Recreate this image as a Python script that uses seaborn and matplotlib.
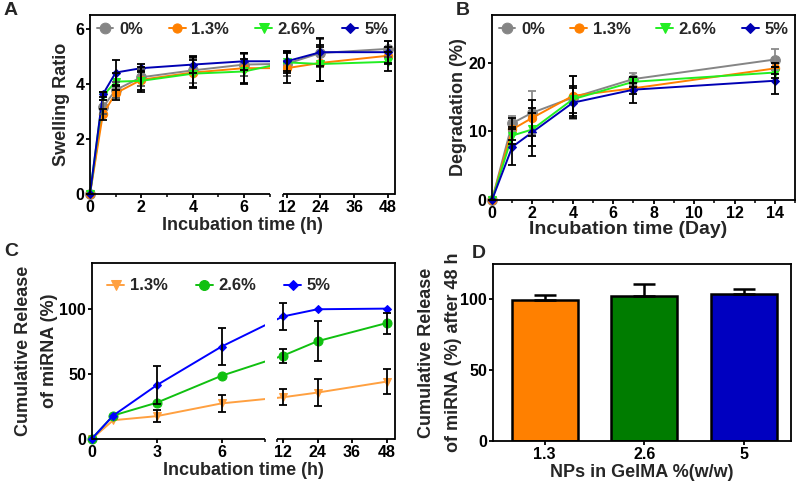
import numpy as np
import matplotlib
matplotlib.use("Agg")
import matplotlib.pyplot as plt
import seaborn as sns

# =========================
# DATA
# =========================

# A - swelling ratio
swell_time = [0, 0.5, 1, 2, 4, 6, 12, 24, 48]
swell_0 = [0, 3.15, 3.78, 4.24, 4.49, 4.70, 4.73, 5.12, 5.27]
swell_13 = [0, 2.90, 3.66, 4.15, 4.41, 4.57, 4.57, 4.76, 5.02]
swell_26 = [0, 3.56, 4.08, 4.11, 4.37, 4.45, 4.78, 4.72, 4.80]
swell_5 = [0, 3.62, 4.41, 4.57, 4.70, 4.82, 4.82, 5.15, 5.15]
swell_0_sd = [0, 0.25, 0.30, 0.30, 0.45, 0.40, 0.45, 0.50, 0.30]
swell_13_sd = [0, 0.20, 0.25, 0.45, 0.55, 0.55, 0.55, 0.65, 0.30]
swell_26_sd = [0, 0.15, 0.30, 0.35, 0.50, 0.45, 0.40, 0.60, 0.35]
swell_5_sd = [0, 0.10, 0.45, 0.15, 0.30, 0.30, 0.35, 0.50, 0.40]

# B - degradation
deg_time = [0, 1, 2, 4, 7, 14]
deg_0 = [0, 11.2, 12.75, 14.95, 17.65, 20.5]
deg_13 = [0, 10.3, 12.0, 15.2, 16.3, 19.2]
deg_26 = [0, 9.4, 10.3, 14.7, 17.25, 18.6]
deg_5 = [0, 7.75, 9.9, 14.2, 16.1, 17.4]
deg_0_sd = [0, 1.1, 3.1, 3.2, 0.9, 1.5]
deg_13_sd = [0, 1.6, 2.6, 2.9, 0.8, 0.8]
deg_26_sd = [0, 1.2, 2.4, 2.0, 0.7, 0.8]
deg_5_sd = [0, 2.6, 3.5, 2.2, 1.9, 2.0]

# C - cumulative release
rel_time = [0, 1, 3, 6, 12, 24, 48]
rel_13 = [0, 14.4, 17.5, 27.3, 32.0, 35.6, 44.0]
rel_26 = [0, 18.0, 27.8, 48.5, 63.9, 75.0, 88.9]
rel_5 = [0, 18.0, 41.2, 70.9, 94.0, 99.5, 100.0]
rel_13_sd = [np.nan, np.nan, 4.7, 6.5, 6.0, 10.3, 9.8]
rel_26_sd = [np.nan, np.nan, np.nan, np.nan, 5.4, 15.5, 8.0]
rel_5_sd = [np.nan, np.nan, 14.5, 14.4, 10.2, np.nan, np.nan]

# D - release after 48 h
bar_labels = ["1.3", "2.6", "5"]
bar_values = [99.6, 102.4, 103.6]
bar_sd = [3.7, 8.3, 3.8]

# =========================
# STYLE
# =========================

sns.set_style("ticks")
plt.rcParams["font.family"] = ["Liberation Sans", "DejaVu Sans"]
plt.rcParams["font.weight"] = "bold"
plt.rcParams["axes.labelweight"] = "bold"
plt.rcParams["axes.edgecolor"] = "black"
plt.rcParams["axes.linewidth"] = 1.3
plt.rcParams["xtick.color"] = "black"
plt.rcParams["ytick.color"] = "black"
plt.rcParams["xtick.major.width"] = 1.3
plt.rcParams["ytick.major.width"] = 1.3
plt.rcParams["xtick.minor.width"] = 1.1
plt.rcParams["xtick.major.size"] = 3
plt.rcParams["ytick.major.size"] = 3
plt.rcParams["xtick.minor.size"] = 2
plt.rcParams["xtick.major.pad"] = 1.5
plt.rcParams["ytick.major.pad"] = 1
plt.rcParams["xtick.labelsize"] = 11.5
plt.rcParams["ytick.labelsize"] = 11.5
plt.rcParams["axes.labelsize"] = 13

GRAY = "#858585"
ORANGE = "#FF8000"
LIME = "#22EE22"
NAVY = "#0000B4"
LEG_FONT = {"weight": "bold", "size": 12}


def pw(x, xs, ys):
    # piecewise linear map with linear extension past the ends
    x = np.asarray(x, dtype=float)
    y = np.interp(x, xs, ys)
    lo = ys[0] + (x - xs[0]) * (ys[1] - ys[0]) / (xs[1] - xs[0])
    hi = ys[-1] + (x - xs[-1]) * (ys[-1] - ys[-2]) / (xs[-1] - xs[-2])
    return np.where(x < xs[0], lo, np.where(x > xs[-1], hi, y))


def broken_x(ax, knots, widths):
    # knots = [start, left_end, right_start, end]; widths = screen units
    ax.set_xscale("function", functions=(lambda t: pw(t, knots, widths),
                                         lambda u: pw(u, widths, knots)))
    ax.set_xlim(knots[0], knots[-1])
    ax.axvspan(knots[1], knots[2], color="white", zorder=2.3, lw=0)
    ax.spines["bottom"].set_visible(False)
    tr = ax.get_xaxis_transform()
    for a, b in [(knots[0], knots[1]), (knots[2], knots[3])]:
        ax.plot([a, b], [0, 0], transform=tr, color="black",
                lw=1.3, clip_on=False, zorder=3, solid_capstyle="butt")


def series(ax, x, y, sd, color, marker, ms, label, ecolor="black"):
    sns.lineplot(x=x, y=y, ax=ax, color=color, marker=marker, markersize=ms,
                 markeredgecolor=color, linewidth=1.4, label=label,
                 clip_on=False, zorder=2)
    ax.errorbar(x, y, yerr=sd, fmt="none", ecolor=ecolor, elinewidth=1.3,
                capsize=3, capthick=1.3, zorder=2.1, clip_on=False)


def top_legend(ax, ncol=4, box=(0.0, 1.0, 1.0, 0)):
    ax.legend(loc="upper left", bbox_to_anchor=box, mode="expand",
              ncol=ncol, frameon=False, handlelength=1.0, handletextpad=0.35,
              borderaxespad=0.0, prop=LEG_FONT, markerscale=1.1)


fig = plt.figure(figsize=(8, 4.87), dpi=100)

# =========================
# A
# =========================
axA = fig.add_axes([0.1125, 0.6016, 0.381, 0.3676])
broken_x(axA, [0, 7, 10.6, 50.5], [0, 180, 193, 305])
series(axA, swell_time, swell_0, swell_0_sd, GRAY, "o", 7, "0%", ecolor="#555555")
series(axA, swell_time, swell_13, swell_13_sd, ORANGE, "o", 6, "1.3%")
series(axA, swell_time, swell_26, swell_26_sd, LIME, "v", 6, "2.6%")
series(axA, swell_time, swell_5, swell_5_sd, NAVY, "D", 4.5, "5%")
axA.set_ylim(0, 6.5)
axA.set_yticks([0, 2, 4, 6])
axA.set_xticks([0, 2, 4, 6, 12, 24, 36, 48])
axA.set_xticklabels(["0", "2", "4", "6", "12", "24", "36", "48"])
axA.set_xticks([1, 3, 5, 7, 10.6], minor=True)
axA.set_xlabel("Incubation time (h)", labelpad=1)
axA.set_ylabel("Swelling Ratio", labelpad=4)
top_legend(axA)

# =========================
# B
# =========================
axB = fig.add_axes([0.615, 0.5893, 0.379, 0.380])
series(axB, deg_time, deg_0, deg_0_sd, GRAY, "o", 7, "0%", ecolor="#8a8a8a")
series(axB, deg_time, deg_13, deg_13_sd, ORANGE, "o", 6, "1.3%")
series(axB, deg_time, deg_26, deg_26_sd, LIME, "v", 6, "2.6%")
series(axB, deg_time, deg_5, deg_5_sd, NAVY, "D", 4.5, "5%")
axB.set_xlim(0, 15)
axB.set_ylim(0, 27)
axB.set_xticks(range(0, 15, 2))
axB.set_xticks(range(1, 16, 2), minor=True)
axB.set_yticks([0, 10, 20])
axB.set_xlabel("Incubation time (Day)", labelpad=1, fontsize=14)
axB.xaxis.set_label_coords(0.45, -0.115)
axB.set_ylabel("Degradation (%)", labelpad=1)
top_legend(axB)

# =========================
# C
# =========================
axC = fig.add_axes([0.1145, 0.0986, 0.3795, 0.3614])
broken_x(axC, [0, 8, 9.9, 51], [0, 173, 185, 303])
series(axC, rel_time, rel_13, rel_13_sd, "#FFA040", "v", 6, "1.3%")
series(axC, rel_time, rel_26, rel_26_sd, "#10C010", "o", 6.5, "2.6%")
series(axC, rel_time, rel_5, rel_5_sd, "#0000FF", "D", 4.5, "5%")
axC.set_ylim(0, 135)
axC.set_yticks([0, 50, 100])
axC.set_xticks([0, 3, 6, 12, 24, 36, 48])
axC.set_xticklabels(["0", "3", "6", "12", "24", "36", "48"])
axC.set_xticks([8, 9.9], minor=True)
axC.set_xlabel("Incubation time (h)", labelpad=1)
axC.set_ylabel("Cumulative Release\nof miRNA (%)", linespacing=1.7)
axC.yaxis.set_label_coords(-0.11, 0.5)
top_legend(axC, ncol=3, box=(0.03, 0.95, 0.78, 0))

# =========================
# D
# =========================
axD = fig.add_axes([0.616, 0.0945, 0.3725, 0.3634])
sns.barplot(x=bar_labels, y=bar_values, hue=bar_labels, legend=False, ax=axD,
            palette=["#FF8000", "#007C00", "#0000C0"], saturation=1, width=0.66,
            edgecolor="black", linewidth=1.8)
axD.errorbar(range(len(bar_labels)), bar_values,
             yerr=[np.zeros(len(bar_sd)), bar_sd], fmt="none", ecolor="black",
             elinewidth=1.8, capsize=8, capthick=1.8)
axD.set_xlim(-0.52, 2.47)
axD.set_ylim(0, 125)
axD.set_yticks([0, 50, 100])
axD.set_xlabel("NPs in GelMA %(w/w)", labelpad=1)
axD.set_ylabel("Cumulative Release\nof miRNA (%) after 48 h", linespacing=1.7)
axD.yaxis.set_label_coords(-0.105, 0.5)

for ax in [axA, axB, axC, axD]:
    for name, sp in ax.spines.items():
        if name != "bottom" or ax is axB or ax is axD:
            sp.set_visible(True)
            sp.set_color("black")
            sp.set_linewidth(1.3)
    ax.tick_params(which="both", direction="out")

for lab, x, y in [("A", 0.005, 0.995), ("B", 0.570, 0.995),
                  ("C", 0.005, 0.500), ("D", 0.590, 0.497)]:
    fig.text(x, y, lab, fontsize=14, fontweight="bold", va="top", ha="left")

fig.savefig("out.png", dpi=100, facecolor="white")
